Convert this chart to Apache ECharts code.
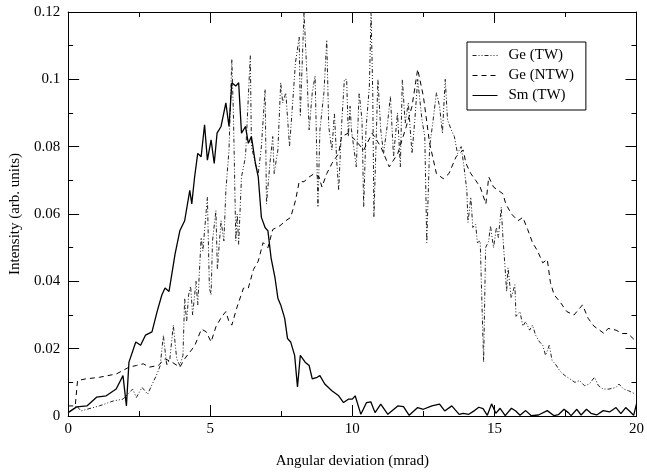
<!DOCTYPE html>
<html>
<head>
<meta charset="utf-8">
<script src="https://cdn.jsdelivr.net/npm/echarts@6/dist/echarts.min.js"></script>
<style>
    html, body { margin: 0; padding: 0; background: #fff; }
    #chart { width: 647px; height: 474px; }
</style>
</head>
<body>
<div id="chart"></div>
<script>
    // 图例名称
    const seriesNames = ["Ge (TW)", "Ge (NTW)", "Sm (TW)"];

    // Ge (TW) —— 噪声很大的曲线
    const geTwX = [0, 0.3, 0.45, 0.66, 1.1, 1.6, 1.93, 2.1, 2.27, 2.4, 2.6, 2.8, 2.96, 3.13, 3.24, 3.35, 3.47, 3.58, 3.7, 3.82,
        3.93, 4.04, 4.1, 4.17, 4.24, 4.31, 4.38, 4.5, 4.56, 4.68, 4.74, 4.86, 4.9, 4.97, 5.03, 5.08, 5.2, 5.25, 5.38, 5.48,
        5.55, 5.66, 5.76, 5.82, 5.9, 5.95, 6.0, 6.1, 6.24, 6.41, 6.45, 6.59, 6.69, 6.8, 6.93, 6.98, 7.1, 7.2, 7.25, 7.38,
        7.48, 7.55, 7.66, 7.79, 7.9, 8.0, 8.13, 8.17, 8.3, 8.41, 8.48, 8.59, 8.69, 8.79, 8.86, 9.0, 9.1, 9.17, 9.28, 9.37,
        9.45, 9.52, 9.62, 9.72, 9.8, 9.86, 9.92, 9.97, 10.14, 10.24, 10.34, 10.4, 10.48, 10.6, 10.66, 10.72, 10.76, 10.9, 11.0, 11.1,
        11.24, 11.34, 11.45, 11.59, 11.69, 11.76, 11.86, 11.97, 12.1, 12.2, 12.3, 12.45, 12.55, 12.62, 12.72, 12.83, 12.96, 13.07, 13.17, 13.27,
        13.35, 13.48, 13.59, 13.7, 13.83, 13.93, 14.03, 14.07, 14.17, 14.24, 14.34, 14.4, 14.5, 14.55, 14.62, 14.69, 14.8, 14.86, 14.97, 15.07,
        15.14, 15.24, 15.3, 15.38, 15.43, 15.48, 15.59, 15.72, 15.76, 15.9, 16.0, 16.1, 16.24, 16.34, 16.45, 16.59, 16.7, 16.8, 16.93, 17.03,
        17.14, 17.31, 17.48, 17.66, 17.83, 18.0, 18.17, 18.34, 18.52, 18.66, 18.83, 19.03, 19.28, 19.38, 19.55, 19.72, 19.97];
    const geTwY = [0.001, 0.003, 0.0015, 0.002, 0.003, 0.0045, 0.005, 0.0065, 0.008, 0.0055, 0.0085, 0.0065, 0.0095, 0.0125, 0.015, 0.024, 0.015, 0.017, 0.027, 0.017,
        0.015, 0.018, 0.035, 0.028, 0.036, 0.0385, 0.030, 0.040, 0.033, 0.053, 0.049, 0.061, 0.065, 0.038, 0.036, 0.052, 0.061, 0.0435, 0.058, 0.052,
        0.067, 0.079, 0.106, 0.088, 0.052, 0.060, 0.051, 0.071, 0.077, 0.107, 0.080, 0.075, 0.072, 0.080, 0.097, 0.063, 0.075, 0.083, 0.072, 0.079,
        0.099, 0.093, 0.096, 0.080, 0.093, 0.105, 0.1125, 0.089, 0.12, 0.100, 0.085, 0.096, 0.101, 0.062, 0.085, 0.096, 0.1117, 0.086, 0.079, 0.090,
        0.076, 0.067, 0.086, 0.100, 0.100, 0.083, 0.092, 0.085, 0.074, 0.096, 0.088, 0.062, 0.085, 0.098, 0.12, 0.095, 0.059, 0.100, 0.085, 0.078,
        0.087, 0.095, 0.077, 0.090, 0.074, 0.100, 0.087, 0.093, 0.078, 0.088, 0.100, 0.088, 0.083, 0.0515, 0.080, 0.087, 0.096, 0.092, 0.084, 0.100,
        0.088, 0.085, 0.083, 0.078, 0.080, 0.074, 0.067, 0.0575, 0.065, 0.056, 0.057, 0.0515, 0.052, 0.0367, 0.016, 0.050, 0.052, 0.0565, 0.050, 0.056,
        0.053, 0.062, 0.053, 0.0435, 0.037, 0.044, 0.035, 0.039, 0.0296, 0.031, 0.0267, 0.028, 0.0255, 0.027, 0.024, 0.022, 0.021, 0.018, 0.021, 0.0165,
        0.0155, 0.0133, 0.012, 0.011, 0.010, 0.0105, 0.009, 0.0095, 0.0115, 0.009, 0.008, 0.008, 0.0085, 0.0095, 0.008, 0.0075, 0.0065];

    // Ge (NTW) —— 虚线，较平滑
    const geNtwX = [0, 0.25, 0.33, 0.6, 1.1, 1.7, 2.14, 2.4, 2.65, 2.85, 3.17, 3.41, 3.65, 3.93, 4.1, 4.45, 4.69, 4.86, 5.03, 5.2,
        5.41, 5.55, 5.66, 5.76, 5.93, 6.17, 6.34, 6.52, 6.69, 6.86, 7.03, 7.2, 7.45, 7.66, 7.83, 8.0, 8.13, 8.3, 8.48, 8.66,
        8.83, 8.93, 9.1, 9.28, 9.52, 9.62, 9.86, 10.1, 10.4, 10.7, 11.0, 11.3, 11.6, 11.9, 12.1, 12.3, 12.5, 12.72, 12.96, 13.2,
        13.4, 13.65, 13.9, 14.0, 14.17, 14.34, 14.5, 14.7, 14.8, 14.97, 15.14, 15.3, 15.4, 15.6, 15.83, 16.0, 16.17, 16.34, 16.52, 16.7,
        16.86, 16.97, 17.1, 17.3, 17.55, 17.8, 18.0, 18.1, 18.3, 18.5, 18.7, 18.86, 19.0, 19.28, 19.5, 19.7, 20.0];
    const geNtwY = [0.003, 0.003, 0.0105, 0.011, 0.0115, 0.0125, 0.0145, 0.015, 0.0155, 0.0145, 0.015, 0.017, 0.016, 0.0145, 0.017, 0.0208, 0.0258, 0.025, 0.022, 0.0265,
        0.0296, 0.031, 0.028, 0.027, 0.032, 0.038, 0.038, 0.0435, 0.046, 0.0515, 0.050, 0.0554, 0.0565, 0.058, 0.059, 0.064, 0.0696, 0.0696, 0.071, 0.072,
        0.071, 0.068, 0.072, 0.075, 0.078, 0.083, 0.084, 0.082, 0.079, 0.084, 0.080, 0.074, 0.078, 0.086, 0.092, 0.103, 0.095, 0.081, 0.072, 0.0705,
        0.072, 0.077, 0.079, 0.075, 0.072, 0.070, 0.068, 0.063, 0.071, 0.068, 0.067, 0.066, 0.063, 0.060, 0.058, 0.059, 0.0554, 0.0515, 0.049, 0.0455,
        0.0465, 0.0397, 0.036, 0.034, 0.031, 0.030, 0.032, 0.033, 0.029, 0.0267, 0.0255, 0.0245, 0.026, 0.0255, 0.0245, 0.0245, 0.022];

    // Sm (TW) —— 实线
    const smX = [0, 0.3, 0.66, 1.0, 1.34, 1.69, 1.93, 2.05, 2.14, 2.38, 2.55, 2.72, 2.95, 3.13, 3.3, 3.41, 3.55, 3.76, 3.93, 4.1,
        4.28, 4.35, 4.45, 4.56, 4.68, 4.8, 4.9, 5.03, 5.14, 5.24, 5.38, 5.55, 5.66, 5.76, 5.9, 6.0, 6.1, 6.24, 6.34, 6.45,
        6.59, 6.69, 6.8, 6.93, 7.03, 7.14, 7.28, 7.38, 7.48, 7.62, 7.72, 7.83, 7.97, 8.07, 8.17, 8.34, 8.48, 8.59, 8.76, 8.86,
        9.03, 9.28, 9.52, 9.69, 9.86, 10.0, 10.1, 10.3, 10.5, 10.65, 10.8, 11.0, 11.25, 11.6, 11.8, 12.0, 12.3, 12.5, 12.8, 13.07,
        13.25, 13.5, 13.76, 13.9, 14.1, 14.3, 14.45, 14.6, 14.75, 14.9, 15.05, 15.2, 15.38, 15.6, 15.75, 15.9, 16.1, 16.3, 16.55, 16.86,
        17.1, 17.25, 17.45, 17.6, 17.7, 17.9, 18.05, 18.24, 18.4, 18.6, 18.83, 19.05, 19.28, 19.45, 19.62, 19.75, 19.9, 20.0];
    const smY = [0.001, 0.0027, 0.003, 0.0056, 0.006, 0.008, 0.012, 0.003, 0.016, 0.022, 0.021, 0.024, 0.025, 0.031, 0.036, 0.038, 0.037, 0.048, 0.055, 0.058,
        0.067, 0.063, 0.071, 0.078, 0.077, 0.0865, 0.076, 0.082, 0.075, 0.084, 0.086, 0.093, 0.086, 0.099, 0.098, 0.099, 0.084, 0.086, 0.081, 0.083,
        0.075, 0.071, 0.059, 0.056, 0.055, 0.047, 0.041, 0.035, 0.033, 0.029, 0.023, 0.022, 0.018, 0.0086, 0.018, 0.016, 0.015, 0.011, 0.0115, 0.012,
        0.0095, 0.0075, 0.006, 0.004, 0.005, 0.005, 0.006, 0.0005, 0.004, 0.0042, 0.001, 0.0035, 0.0005, 0.003, 0.0028, 0.0002, 0.0025, 0.002, 0.003, 0.0035,
        0.0015, 0.003, 0.0005, 0.0008, 0.0005, 0.0016, 0.0026, 0.0022, 0.0002, 0.0036, 0.0008, 0.0023, 0.0001, 0.0023, 0.0015, 0.0002, 0.0016, 0.0001, 0.0003, 0.0016,
        0.0001, 0.0004, 0.002, 0.001, 0.0001, 0.002, 0.0003, 0.002, 0.0008, 0.0003, 0.0016, 0.0012, 0.0025, 0.0007, 0.0025, 0.0015, 0.0002, 0.0036];

    const zip = (xs, ys) => xs.map((x, i) => [x, ys[i]]);

    const font = "Liberation Serif";

    // 四周都有刻度，刻度朝内
    const makeAxis = (position, showLabel, extra) => Object.assign({
        type: "value",
        position: position,
        axisLine: { show: true, onZero: false, lineStyle: { color: "#000", width: 1 } },
        axisTick: { show: true, inside: true, length: 11, lineStyle: { color: "#000" } },
        minorTick: { show: true, splitNumber: 2, length: 5, lineStyle: { color: "#000" } },
        axisLabel: { show: showLabel, color: "#000", fontFamily: font, fontSize: 15 },
        splitLine: { show: false },
        minorSplitLine: { show: false }
    }, extra);

    const chart = echarts.init(document.getElementById("chart"));

    const option = {
        animation: false,
        backgroundColor: "#fff",
        grid: { left: 61, right: 6, top: 12, bottom: 57 },
        legend: {
            data: seriesNames,
            orient: "vertical",
            left: 467,
            top: 42,
            padding: [6, 12, 7, 5],
            itemGap: 5,
            itemWidth: 25,
            itemHeight: 14,
            backgroundColor: "#fff",
            borderColor: "#000",
            borderWidth: 1,
            borderRadius: 0,
            // 图例只画线，不画圆点
            itemStyle: { opacity: 0 },
            lineStyle: { width: 1 },
            textStyle: { fontFamily: font, fontSize: 15, color: "#000", padding: [0, 0, 0, 6] }
        },
        xAxis: [
            makeAxis("bottom", true, {
                min: 0, max: 20, interval: 5,
                name: "Angular deviation (mrad)",
                nameLocation: "middle",
                nameGap: 38,
                nameTextStyle: { fontFamily: font, fontSize: 15, color: "#000" },
                axisLabel: { show: true, color: "#000", fontFamily: font, fontSize: 15, margin: 6 }
            }),
            makeAxis("top", false, { min: 0, max: 20, interval: 5 })
        ],
        yAxis: [
            makeAxis("left", true, {
                min: 0, max: 0.12, interval: 0.02,
                name: "Intensity (arb. units)",
                nameLocation: "middle",
                nameGap: 41,
                nameTextStyle: { fontFamily: font, fontSize: 15, color: "#000" },
                axisLabel: { show: true, color: "#000", fontFamily: font, fontSize: 15, margin: 8 }
            }),
            makeAxis("right", false, { min: 0, max: 0.12, interval: 0.02 })
        ],
        series: [
            {
                name: seriesNames[0],
                type: "line",
                data: zip(geTwX, geTwY),
                showSymbol: false,
                symbol: "none",
                lineStyle: { color: "#222", width: 1, type: [4, 2, 1, 2, 1, 2] },
                itemStyle: { color: "#222" },
                z: 2
            },
            {
                name: seriesNames[1],
                type: "line",
                data: zip(geNtwX, geNtwY),
                showSymbol: false,
                symbol: "none",
                lineStyle: { color: "#000", width: 1, type: [5, 4] },
                itemStyle: { color: "#000" },
                z: 3
            },
            {
                name: seriesNames[2],
                type: "line",
                data: zip(smX, smY),
                showSymbol: false,
                symbol: "none",
                lineStyle: { color: "#000", width: 1.3, type: "solid" },
                itemStyle: { color: "#000" },
                z: 4
            }
        ]
    };

    chart.setOption(option);
</script>
</body>
</html>
